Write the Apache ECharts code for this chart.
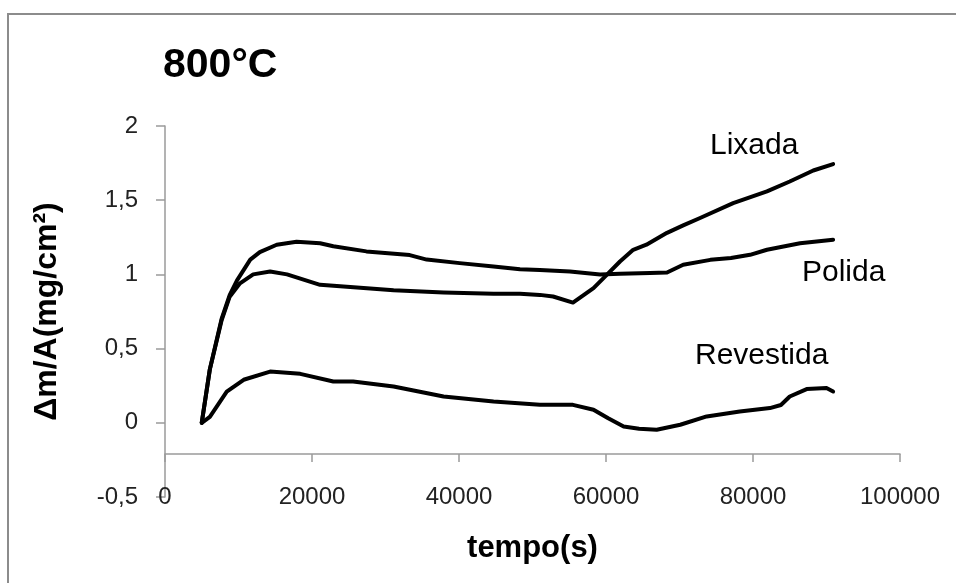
<!DOCTYPE html>
<html>
<head>
<meta charset="utf-8">
<script src="https://cdn.jsdelivr.net/npm/echarts@6/dist/echarts.min.js"></script>
<style>html,body{margin:0;padding:0;background:#fff}#c{width:956px;height:583px}</style>
</head>
<body>
<div id="c"></div>
<script>
const titleText = '800°C';
const xAxisTitle = 'tempo(s)';
const yAxisTitle = 'Δm/A(mg/cm²)';
const seriesNames = ['Lixada', 'Polida', 'Revestida'];

const lixadaT = [5000, 6100, 7700, 8800, 10200, 12000, 14300, 16600, 21100, 25200, 31100, 37900, 44700, 48300, 51000, 52800, 55500, 58300, 60100, 61900, 63700, 65500, 68300, 70500, 72800, 77300, 81900, 85000, 88200, 90900];
const lixadaV = [0, 0.36, 0.69, 0.85, 0.94, 1.0, 1.02, 1.0, 0.93, 0.915, 0.893, 0.878, 0.869, 0.87, 0.862, 0.851, 0.81, 0.907, 0.997, 1.087, 1.166, 1.2, 1.28, 1.33, 1.38, 1.48, 1.559, 1.626, 1.7, 1.743];

const polidaT = [5000, 6100, 7700, 8800, 9800, 11600, 12900, 15200, 17900, 21100, 22900, 27400, 33300, 35600, 40100, 44700, 48300, 51000, 55100, 59200, 61900, 66000, 68300, 70500, 74200, 77000, 79600, 81900, 86400, 90900];
const polidaV = [0, 0.36, 0.70, 0.86, 0.96, 1.10, 1.15, 1.20, 1.22, 1.21, 1.19, 1.155, 1.13, 1.10, 1.076, 1.053, 1.035, 1.03, 1.02, 1.0, 1.004, 1.01, 1.013, 1.065, 1.098, 1.11, 1.132, 1.166, 1.21, 1.233];

const revestidaT = [5000, 6100, 8400, 10700, 14300, 18400, 22900, 25600, 31100, 37900, 44700, 51000, 55500, 58300, 60300, 62400, 64500, 66900, 70100, 73700, 78200, 82300, 83800, 85000, 87300, 90000, 90900];
const revestidaV = [0, 0.04, 0.21, 0.29, 0.345, 0.33, 0.278, 0.278, 0.245, 0.177, 0.144, 0.121, 0.121, 0.088, 0.03, -0.025, -0.04, -0.047, -0.013, 0.043, 0.076, 0.099, 0.12, 0.177, 0.227, 0.234, 0.211];

const xTicks = [0, 20000, 40000, 60000, 80000, 100000];
const yTicks = [-0.5, 0, 0.5, 1, 1.5, 2];

function pairs(t, v) { return t.map((x, i) => [x, v[i]]); }

const chart = echarts.init(document.getElementById('c'), null, {renderer: 'canvas'});
const FONT = '"Liberation Sans", Arial, sans-serif';
const axisGray = '#9a9a9a';

const lineSeries = (name, t, v) => ({
  name: name,
  type: 'line',
  data: pairs(t, v),
  showSymbol: false,
  symbol: 'none',
  smooth: false,
  lineStyle: {color: '#000', width: 4, join: 'round', cap: 'round'},
  xAxisIndex: 0,
  yAxisIndex: 0,
  z: 3
});

chart.setOption({
  animation: false,
  backgroundColor: '#fff',
  title: {
    text: titleText,
    left: 158,
    top: 40,
    textStyle: {fontFamily: FONT, fontWeight: 'bold', fontSize: 41, color: '#000'}
  },
  grid: {left: 165, right: 56, top: 126, bottom: 86, containLabel: false},
  xAxis: [
    {
      type: 'value',
      min: xTicks[0],
      max: xTicks[xTicks.length - 1],
      interval: 20000,
      position: 'bottom',
      axisLine: {show: false},
      axisTick: {show: false},
      splitLine: {show: false},
      axisLabel: {
        margin: -12,
        fontFamily: FONT, fontSize: 24, color: '#222',
        formatter: v => String(v)
      },
      name: xAxisTitle,
      nameLocation: 'middle',
      nameGap: 36,
      nameTextStyle: {fontFamily: FONT, fontWeight: 'bold', fontSize: 31, color: '#000'}
    },
    {
      type: 'value',
      min: xTicks[0],
      max: xTicks[xTicks.length - 1],
      interval: 20000,
      position: 'bottom',
      offset: -43,
      axisLine: {show: true, onZero: false, lineStyle: {color: axisGray, width: 1.5}},
      axisTick: {show: true, length: 8, lineStyle: {color: axisGray, width: 1.5}},
      axisLabel: {show: false},
      splitLine: {show: false}
    }
  ],
  yAxis: {
    type: 'value',
    min: yTicks[0],
    max: yTicks[yTicks.length - 1],
    interval: 0.5,
    axisLine: {show: true, onZero: false, lineStyle: {color: axisGray, width: 1.5}},
    axisTick: {show: true, length: 9, lineStyle: {color: axisGray, width: 1.5}},
    splitLine: {show: false},
    axisLabel: {
      margin: 27,
      fontFamily: FONT, fontSize: 24, color: '#222',
      formatter: v => String(v).replace('.', ',')
    },
    name: yAxisTitle,
    nameLocation: 'middle',
    nameRotate: 90,
    nameGap: 102,
    nameTextStyle: {fontFamily: FONT, fontWeight: 'bold', fontSize: 32, color: '#000'}
  },
  graphic: [
    {type: 'rect', shape: {x: 8, y: 14, width: 1200, height: 1200}, style: {fill: null, stroke: '#8c8c8c', lineWidth: 2}, z: -1, silent: true},
    {type: 'text', left: 710, top: 131, style: {text: seriesNames[0], font: '30px ' + FONT, fill: '#000'}},
    {type: 'text', left: 802, top: 258, style: {text: seriesNames[1], font: '30px ' + FONT, fill: '#000'}},
    {type: 'text', left: 695, top: 341, style: {text: seriesNames[2], font: '30px ' + FONT, fill: '#000'}}
  ],
  series: [
    lineSeries(seriesNames[0], lixadaT, lixadaV),
    lineSeries(seriesNames[1], polidaT, polidaV),
    lineSeries(seriesNames[2], revestidaT, revestidaV)
  ]
});
</script>
</body>
</html>
